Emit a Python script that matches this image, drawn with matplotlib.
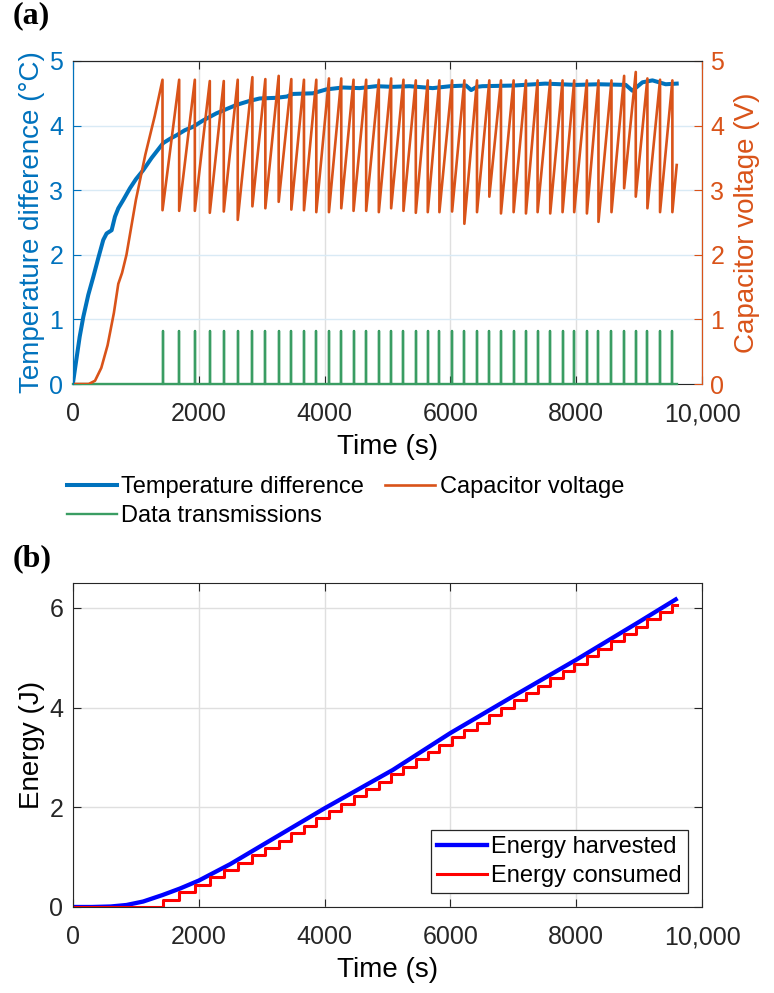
import matplotlib
matplotlib.use("Agg")
import matplotlib.pyplot as plt
import numpy as np
from matplotlib.ticker import FuncFormatter

plt.rcParams['font.family'] = ['Liberation Sans', 'DejaVu Sans']

BLUE = '#0072BD'
ORANGE = '#D95319'
GREEN = '#3A9D63'
DARK = '#262626'

# transmission instants (s)
tx_times = [1423, 1688, 1937, 2175, 2397, 2619, 2852, 3058, 3270, 3471,
            3672, 3868, 4069, 4265, 4460, 4661, 4862, 5058, 5254, 5450,
            5640, 5825, 6027, 6222, 6423, 6619, 6804, 7005, 7201, 7386,
            7587, 7783, 7968, 8170, 8354, 8561, 8762, 8947, 9132, 9333, 9529]
# capacitor voltage just before / just after each transmission (V)
cap_peak = [4.71, 4.71, 4.71, 4.69, 4.69, 4.71, 4.75, 4.72, 4.77, 4.72,
            4.71, 4.71, 4.73, 4.73, 4.71, 4.71, 4.71, 4.73, 4.71, 4.70,
            4.70, 4.70, 4.70, 4.70, 4.70, 4.70, 4.70, 4.70, 4.70, 4.70,
            4.70, 4.70, 4.70, 4.70, 4.70, 4.70, 4.77, 4.83, 4.73, 4.71, 4.70]
cap_trough = [2.69, 2.68, 2.68, 2.65, 2.67, 2.54, 2.75, 2.72, 2.82, 2.70,
              2.69, 2.66, 2.66, 2.72, 2.68, 2.68, 2.66, 2.72, 2.68, 2.65,
              2.66, 2.66, 2.67, 2.48, 2.66, 2.90, 2.64, 2.66, 2.64, 2.66,
              2.64, 2.66, 2.66, 2.64, 2.51, 2.66, 3.03, 2.90, 2.72, 2.66, 2.66]
# initial charge-up of the capacitor
cap_start_t = [0, 250, 350, 450, 550, 650, 720, 780, 850, 1000, 1150, 1300]
cap_start_v = [0, 0.0, 0.05, 0.25, 0.6, 1.1, 1.55, 1.72, 2.0, 2.85, 3.55, 4.15]
cap_end_t, cap_end_v = 9598, 3.39

# temperature difference (°C)
temp_t = [0, 52, 106, 164, 243, 323, 402, 481, 534, 614, 667, 720, 800, 905,
          1000, 1116, 1250, 1434, 1550, 1645, 1780, 1905, 2069, 2280, 2598,
          2800, 2968, 3233, 3400, 3497, 3815, 4026, 4291, 4556, 4820, 5085,
          5349, 5719, 6000, 6249, 6330, 6420, 6508, 7000, 7508, 8000, 8360,
          8788, 8894, 9053, 9212, 9423, 9598]
temp_v = [0.02, 0.37, 0.73, 1.04, 1.38, 1.66, 1.95, 2.23, 2.33, 2.38, 2.59,
          2.72, 2.85, 3.03, 3.17, 3.31, 3.50, 3.73, 3.80, 3.85, 3.93, 3.98,
          4.08, 4.19, 4.32, 4.38, 4.42, 4.43, 4.45, 4.49, 4.50, 4.56, 4.59,
          4.58, 4.61, 4.60, 4.61, 4.58, 4.61, 4.62, 4.55, 4.60, 4.61, 4.62,
          4.65, 4.63, 4.64, 4.63, 4.54, 4.67, 4.70, 4.64, 4.65]
tx_height = 0.82
tx_end = 9598

# energy (J)
energy_t = [0, 300, 600, 850, 1116, 1423, 1700, 2000, 2500, 2968, 4000,
            5085, 6000, 7000, 8000, 9000, 9582]
energy_h = [0, 0.0, 0.01, 0.04, 0.11, 0.24, 0.37, 0.53, 0.86, 1.21, 1.98,
            2.75, 3.49, 4.23, 4.96, 5.72, 6.17]
energy_per_tx = 0.148

# build series
cap_t = list(cap_start_t)
cap_v = list(cap_start_v)
for t, p, q in zip(tx_times, cap_peak, cap_trough):
    cap_t += [t, t]
    cap_v += [p, q]
cap_t.append(cap_end_t)
cap_v.append(cap_end_v)

tx_x = [0]
tx_y = [0]
for t in tx_times:
    tx_x += [t, t, t]
    tx_y += [0, tx_height, 0]
tx_x.append(tx_end)
tx_y.append(0)

cons = np.cumsum(np.full(len(tx_times), energy_per_tx))
cons_x = [0] + tx_times + [tx_end]
cons_y = [0] + list(cons) + [cons[-1]]


def fmt_time(x, pos):
    return f"{int(x):,}" if x >= 10000 else f"{int(x)}"


W, H = 774, 993
fig = plt.figure(figsize=(W / 100, H / 100), dpi=100)
ax1 = fig.add_axes([73 / W, 1 - 384 / H, 629 / W, 323 / H])
ax2 = ax1.twinx()
ax3 = fig.add_axes([73 / W, 1 - 907 / H, 629 / W, 324 / H])

TICK = 18
LAB = 20

# ---- (a)
l_temp, = ax1.plot(temp_t, temp_v, color=BLUE, lw=2.9, label='Temperature difference')
l_tx, = ax1.plot(tx_x, tx_y, color=GREEN, lw=1.7, label='Data transmissions',
                 zorder=3, clip_on=False)
l_cap, = ax2.plot(cap_t, cap_v, color=ORANGE, lw=1.9, label='Capacitor voltage')

ax1.set_xlim(0, 10000)
ax1.set_ylim(0, 5)
ax2.set_ylim(0, 5)
ax1.set_xticks([0, 2000, 4000, 6000, 8000, 10000])
ax1.xaxis.set_major_formatter(FuncFormatter(fmt_time))
ax1.set_yticks(range(6))
ax2.set_yticks(range(6))

ax1.grid(axis='y', color='#D9EAF5', lw=1)
ax1.grid(axis='x', color='#DFDFDF', lw=1)
ax1.set_axisbelow(True)

ax1.tick_params(axis='x', direction='in', top=True, length=6, pad=13,
                labelsize=TICK, colors=DARK)
ax1.tick_params(axis='y', direction='in', length=6, pad=7, labelsize=TICK,
                colors=BLUE)
ax2.tick_params(axis='y', direction='in', length=6, pad=6, labelsize=TICK,
                colors=ORANGE)
ax1.spines['top'].set_color(DARK)
ax1.spines['bottom'].set_color(DARK)
ax1.spines['bottom'].set_zorder(1)
ax2.spines['top'].set_color(DARK)
ax2.spines['bottom'].set_visible(False)
ax2.spines['left'].set_color(BLUE)
ax2.spines['right'].set_color(ORANGE)
ax1.spines['left'].set_color(BLUE)

ax1.set_xlabel('Time (s)', fontsize=LAB, labelpad=6, color='black')
ax1.set_ylabel('Temperature difference (°C)', fontsize=LAB, color=BLUE, labelpad=3)
ax2.set_ylabel('Capacitor voltage (V)', fontsize=LAB, color=ORANGE, labelpad=7)

fig.legend([l_temp, l_tx, l_cap],
           ['Temperature difference', 'Data transmissions', 'Capacitor voltage'],
           ncol=2, loc='upper left', bbox_to_anchor=(67 / W, 1 - 476 / H),
           frameon=False, fontsize=17, handlelength=2.1, handletextpad=0.2,
           columnspacing=0.9, labelspacing=0.3, borderpad=0, borderaxespad=0)

# ---- (b)
ax3.plot(energy_t, energy_h, color='#0000FF', lw=3.1, label='Energy harvested')
ax3.step(cons_x, cons_y, where='post', color='#FF0000', lw=2.2, label='Energy consumed')
ax3.set_xlim(0, 10000)
ax3.set_ylim(0, 6.5)
ax3.set_xticks([0, 2000, 4000, 6000, 8000, 10000])
ax3.set_yticks([0, 2, 4, 6])
ax3.xaxis.set_major_formatter(FuncFormatter(fmt_time))
ax3.grid(color='#DFDFDF', lw=1)
ax3.set_axisbelow(True)
ax3.tick_params(direction='in', top=True, right=True, length=6, labelsize=TICK,
                colors=DARK)
ax3.tick_params(axis='x', pad=13)
ax3.tick_params(axis='y', pad=7)
for s in ax3.spines.values():
    s.set_color(DARK)
ax3.set_xlabel('Time (s)', fontsize=LAB, labelpad=6)
ax3.set_ylabel('Energy (J)', fontsize=LAB, labelpad=3)
leg = ax3.legend(loc='lower right', fontsize=17, handlelength=2.1,
                 handletextpad=0.2, labelspacing=0.3, borderpad=0.25,
                 borderaxespad=0.6, fancybox=False, framealpha=1)
leg.get_frame().set_edgecolor(DARK)
leg.get_frame().set_linewidth(0.9)

# panel labels
fig.text(13 / W, 1 - 1 / H, '(a)', family=['Liberation Serif', 'DejaVu Serif'],
         fontweight='bold', fontsize=23, va='top', ha='left')
fig.text(13 / W, 1 - 544 / H, '(b)', family=['Liberation Serif', 'DejaVu Serif'],
         fontweight='bold', fontsize=23, va='top', ha='left')

fig.savefig('out.png', dpi=100)
